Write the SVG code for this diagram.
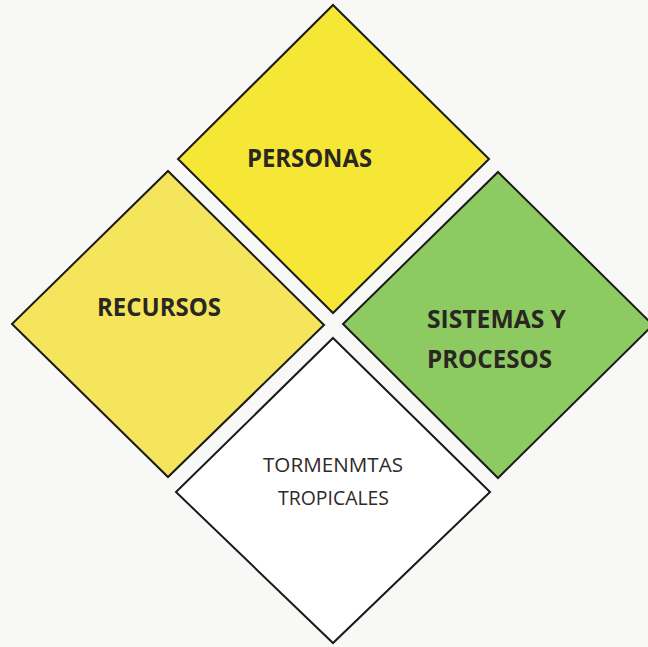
<svg xmlns="http://www.w3.org/2000/svg" width="648" height="647" viewBox="0 0 648 647">
<style>
.d{stroke:#1a1a1a;stroke-width:2;stroke-linejoin:miter}
.b{font-family:"Open Sans","Liberation Sans",sans-serif;font-weight:bold;font-size:25px;fill:#2a2622}
.r{font-family:"Open Sans","Liberation Sans",sans-serif;font-size:19.5px;fill:#2e2a28}
</style>
<rect width="648" height="647" fill="#f8f8f6"/>
<g id="personas">
<polygon class="d" points="333,5 489,159 333,313 178,159" fill="#f6e636"/>
<text class="b" x="247" y="167" textLength="125" lengthAdjust="spacingAndGlyphs">PERSONAS</text>
</g>
<g id="recursos">
<polygon class="d" points="168,171 324,325 168,477 12,324" fill="#f4e55c"/>
<text class="b" x="97" y="316" textLength="124" lengthAdjust="spacingAndGlyphs">RECURSOS</text>
</g>
<g id="sistemas">
<polygon class="d" points="498,172 653,325 498,478 343,324" fill="#8dcb62"/>
<text class="b" x="427" y="328" textLength="139" lengthAdjust="spacingAndGlyphs">SISTEMAS Y</text>
<text class="b" x="427" y="368" textLength="125" lengthAdjust="spacingAndGlyphs">PROCESOS</text>
</g>
<g id="tormentas">
<polygon class="d" points="333,338 490,492 333,643 176,492" fill="#ffffff"/>
<text class="r" x="263" y="472" textLength="140" lengthAdjust="spacingAndGlyphs">TORMENMTAS</text>
<text class="r" x="278" y="505" textLength="111" lengthAdjust="spacingAndGlyphs">TROPICALES</text>
</g>
<g id="connectors"></g>
</svg>
